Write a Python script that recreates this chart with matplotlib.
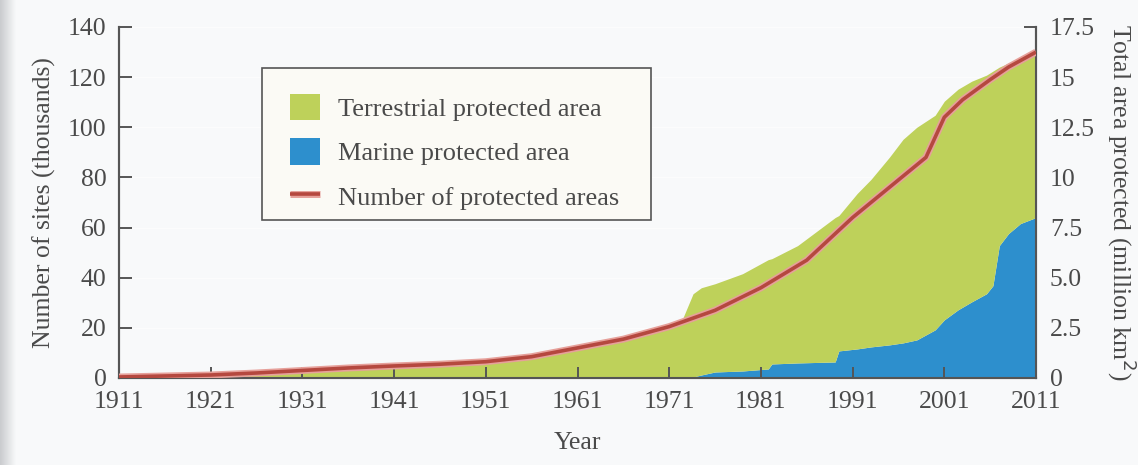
import numpy as np
import matplotlib
matplotlib.use("Agg")
import matplotlib.pyplot as plt
from matplotlib.patches import Patch, Rectangle
import matplotlib.patheffects as pe

# ---- data ----
years_sites = [1911, 1916, 1921, 1926, 1931, 1936, 1941, 1946, 1951, 1956, 1961, 1966,
               1971, 1976, 1981, 1986, 1991, 1994, 1997, 1999, 2001, 2003, 2006, 2008, 2011]
sites_thousands = [0.4, 0.8, 1.2, 2.0, 3.0, 4.0, 4.8, 5.5, 6.5, 8.5, 12, 15.5,
                   20.5, 27, 36, 47, 64, 73, 82, 88, 104, 111, 119, 124, 130]

years_area = [1911, 1921, 1926, 1931, 1941, 1951, 1961, 1966, 1971, 1972.5,
              1973.6, 1974.5, 1976, 1979, 1981.8, 1982.2, 1985, 1989.1, 1989.5, 1991.5,
              1993, 1995, 1996.5, 1998, 2000, 2001, 2002.5, 2004, 2005.6, 2006.3,
              2007, 2008, 2009.3, 2011]
marine_area = [0, 0, 0, 0, 0, 0, 0, 0, 0, 0,
               0.05, 0.15, 0.3, 0.35, 0.45, 0.7, 0.75, 0.8, 1.35, 1.45,
               1.55, 1.65, 1.75, 1.9, 2.4, 2.9, 3.4, 3.8, 4.2, 4.6,
               6.6, 7.2, 7.7, 8.0]
total_area = [0, 0.05, 0.15, 0.3, 0.5, 0.75, 1.4, 1.85, 2.5, 3.0,
              4.2, 4.5, 4.7, 5.2, 5.9, 5.95, 6.6, 8.0, 8.1, 9.2,
              9.9, 11.0, 11.9, 12.5, 13.1, 13.8, 14.4, 14.8, 15.1, 15.3,
              15.5, 15.7, 15.9, 16.3]

x_ticks = [1911, 1921, 1931, 1941, 1951, 1961, 1971, 1981, 1991, 2001, 2011]
left_ticks = [0, 20, 40, 60, 80, 100, 120, 140]
right_ticks = [0, 2.5, 5.0, 7.5, 10, 12.5, 15, 17.5]
right_tick_labels = ["0", "2.5", "5.0", "7.5", "10", "12.5", "15", "17.5"]

legend_labels = ["Terrestrial protected area", "Marine protected area",
                 "Number of protected areas"]

# ---- style ----
GREEN = "#bed15a"
BLUE = "#2d8fcd"
RED = "#b5483f"
HALO = "#e6a09a"
CREAM = "#f5eedb"
TEXT = "#4a4a4a"
SPINE = "#555555"
FONT = "Liberation Serif"
FS = 18.5

plt.rcParams["font.family"] = [FONT, "DejaVu Serif"]

fig = plt.figure(figsize=(11.38, 4.65), dpi=100, facecolor="#f8f9fa")

# scan shading at left edge
gax = fig.add_axes([0, 0, 16 / 1138, 1])
grad = np.linspace(0.0, 1.0, 64)[None, :]
gax.imshow(grad, aspect="auto", cmap=matplotlib.colors.LinearSegmentedColormap.from_list(
    "g", ["#c9cbce", "#f8f9fa"]), extent=[0, 1, 0, 1])
gax.axis("off")

ax = fig.add_axes([119 / 1138, 1 - 378 / 465, (1036 - 119) / 1138, (378 - 27) / 465])
ax2 = ax.twinx()

ax.set_zorder(2)
ax2.set_zorder(1)
ax.patch.set_visible(False)
ax2.patch.set_facecolor(CREAM)

# area fills (right axis)
ax2.fill_between(years_area, 0, marine_area, color=BLUE, linewidth=0, zorder=3)
ax2.fill_between(years_area, marine_area, total_area, color=GREEN, linewidth=0, zorder=3)
ax2.set_ylim(0, 17.5)
ax2.set_yticks(right_ticks)
ax2.set_yticklabels(right_tick_labels)
ax2.grid(True, color="white", alpha=0.6, linewidth=1.0, zorder=0)
ax2.set_axisbelow(True)

# number of sites (left axis)
line, = ax.plot(years_sites, sites_thousands, color=RED, linewidth=2.6, zorder=5,
                solid_capstyle="butt",
                path_effects=[pe.Stroke(linewidth=5.0, foreground=HALO), pe.Normal()])
ax.set_ylim(0, 140)
ax.set_yticks(left_ticks)
ax.set_xlim(1911, 2011)
ax.set_xticks(x_ticks)

for a in (ax, ax2):
    a.spines["top"].set_visible(False)
    for s in ("left", "right", "bottom"):
        a.spines[s].set_color(SPINE)
        a.spines[s].set_linewidth(1.5)

ax.tick_params(axis="y", direction="in", length=9, width=1.4, color=SPINE,
               labelsize=FS, labelcolor=TEXT, pad=9)
ax.tick_params(axis="x", direction="in", length=8, width=1.4, color=SPINE,
               labelsize=FS, labelcolor=TEXT, pad=9)
ax2.tick_params(axis="y", direction="in", length=9, width=1.4, color=SPINE,
                labelsize=FS, labelcolor=TEXT, pad=10)

ax.set_ylabel("Number of sites (thousands)", fontsize=FS, color=TEXT, labelpad=8.5)
ax2.set_ylabel("Total area protected (million km$^2$)", fontsize=FS, color=TEXT,
               rotation=270, labelpad=31)
ax.set_xlabel("Year", fontsize=FS, color=TEXT, labelpad=14)

# legend box (frame drawn separately to match the reference's box)
W, H = 917.0, 351.0
box = Rectangle(((262 - 119) / W, (378 - 220) / H), (651 - 262) / W, (220 - 68) / H,
                transform=ax.transAxes, facecolor="#fbfaf5", edgecolor=SPINE,
                linewidth=1.2, zorder=8)
ax.add_patch(box)

handles = [Patch(facecolor=GREEN, edgecolor="none"),
           Patch(facecolor=BLUE, edgecolor="none"),
           line]
leg = ax.legend(handles, legend_labels, loc="upper left",
                bbox_to_anchor=((290 - 119) / W, (378 - 94) / H),
                frameon=False, fontsize=19,
                handlelength=1.15, handleheight=1.15, handletextpad=0.65,
                labelspacing=0.66, borderpad=0.0, borderaxespad=0.0)
leg.set_zorder(9)
for t in leg.get_texts():
    t.set_color(TEXT)

fig.savefig("out.png", dpi=100, facecolor=fig.get_facecolor())
